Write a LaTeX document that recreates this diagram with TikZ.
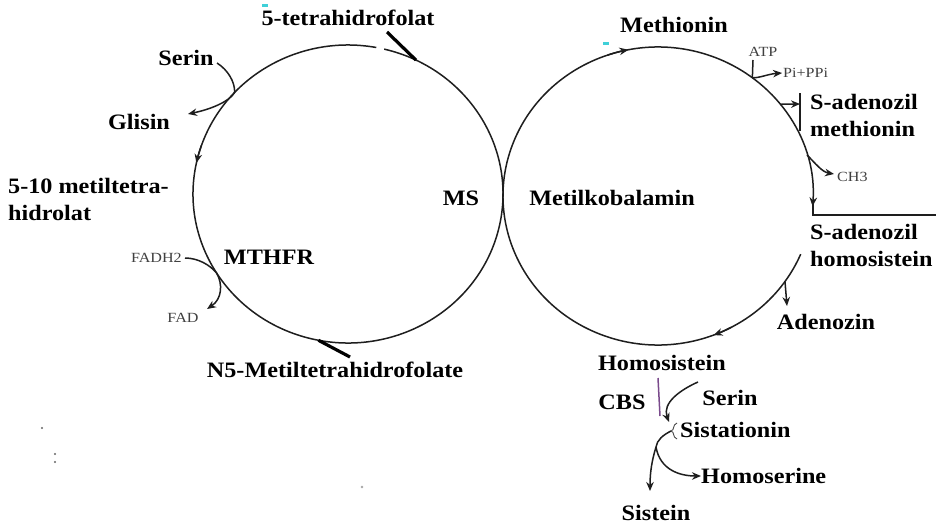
\documentclass[tikz,border=0pt]{standalone}
\usepackage{fontspec}
\usetikzlibrary{arrows.meta,calc}
\newfontfamily\lsfam{Liberation Serif}[FakeStretch=1.1]
\newfontfamily\lssfam{Liberation Serif}[FakeStretch=1.15]
\newcommand\bigf{\lsfam\bfseries\fontsize{22}{27}\selectfont}
\newcommand\smallf{\lssfam\fontsize{14}{16}\selectfont}
\definecolor{lncol}{HTML}{1E1E1E}
\definecolor{purp}{HTML}{7A4A8C}
\definecolor{cyanmark}{HTML}{3FD0D8}
\tikzset{
  lbl/.style={font=\bigf, inner sep=0pt, text=black},
  sml/.style={font=\smallf, inner sep=0pt, text=black!75},
  ln/.style={line width=1.5pt, draw=lncol},
  tipped/.style={-{Stealth[length=9pt,width=7.5pt]}},
  thickbar/.style={line width=3.2pt, draw=black},
  speck/.style={fill=black!60, draw=none}
}
\begin{document}
\begin{tikzpicture}[x=1pt,y=-1pt]
\useasboundingbox (0,0) rectangle (936,527);
\fill[white] (0,0) rectangle (936,527);
\clip (0,0) rectangle (936,527);

% ---------- left cycle (folate) ----------
\draw[ln] ([shift={(348,194)}]-76.5:155 and 149) arc[start angle=-76.5, end angle=280.5, x radius=155, y radius=149];
\draw[ln,tipped] ([shift={(348,194)}]199:155 and 149) arc[start angle=199, end angle=192, x radius=155, y radius=149];
\coordinate (lSer) at ([shift={(348,194)}]223:155 and 149);
\coordinate (lFad) at ([shift={(348,194)}]148:155 and 149);
\coordinate (lN5) at ([shift={(348,194)}]101:155 and 149);
\coordinate (lThf) at ([shift={(348,194)}]-64:155 and 149);

% ---------- right cycle (methionine) ----------
\coordinate (rStart) at ([shift={(658,196)}]23:155 and 149);
\draw[ln,tipped] (rStart) arc[start angle=23, end angle=364, x radius=155, y radius=149];
\draw[ln,tipped] ([shift={(658,196)}]251:155 and 149) arc[start angle=251, end angle=259, x radius=155, y radius=149];
\draw[ln,tipped] ([shift={(658,196)}]62:155 and 149) arc[start angle=62, end angle=69, x radius=155, y radius=149];
\coordinate (rAtp) at ([shift={(658,196)}]307.5:155 and 149);
\coordinate (rSam) at ([shift={(658,196)}]322:155 and 149);
\coordinate (rCh3) at ([shift={(658,196)}]344:155 and 149);
\coordinate (rAdo) at ([shift={(658,196)}]35:155 and 149);

% ---------- labels ----------
\node[lbl] (thf) at (348,18) {5-tetrahidrofolat};
\node[lbl] (serinL) at (186,58) {Serin};
\node[lbl] (glisin) at (139,122) {Glisin};
\node[lbl, anchor=west, align=left] (mthf) at (8,199) {5-10 metiltetra-\\hidrolat};
\node[sml, anchor=east] (fadh) at (182,258) {FADH2};
\node[sml] (fad) at (183,318) {FAD};
\node[lbl] (mthfr) at (269,257) {MTHFR};
\node[lbl] (ms) at (461,198) {MS};
\node[lbl] (mkb) at (612,198) {Metilkobalamin};
\node[lbl] (n5) at (335,370) {N5-Metiltetrahidrofolate};
\node[lbl] (met) at (674,25) {Methionin};
\node[sml] (atp) at (763,52) {ATP};
\node[sml, anchor=west] (pi) at (783,73) {Pi+PPi};
\node[lbl, anchor=west, align=left] (sam) at (810,115) {S-adenozil\\methionin};
\node[sml, anchor=west] (ch3) at (837,177) {CH3};
\node[lbl, anchor=west, align=left] (sah) at (810,245) {S-adenozil\\homosistein};
\node[lbl] (ado) at (826,322) {Adenozin};
\node[lbl] (hcy) at (662,363) {Homosistein};
\node[lbl] (cbs) at (622,402) {CBS};
\node[lbl] (serinB) at (730,398) {Serin};
\node[lbl, anchor=west] (cysta) at (680,430) {Sistationin};
\node[lbl, anchor=west] (hser) at (701,476) {Homoserine};
\node[lbl] (cys) at (656,513) {Sistein};

% ---------- left branches ----------
\coordinate (thfA) at (387,32);
\draw[thickbar] (thfA) -- (lThf);
\coordinate (n5A) at (350,357);
\draw[thickbar] (lN5) -- (n5A);
\coordinate (serStart) at (217,63);
\coordinate (gliEnd) at (188,114);
\draw[ln,tipped] (serStart) .. controls (228,70) and (235,82) .. (lSer) .. controls (230,101) and (212,109) .. (gliEnd);
\coordinate (fadhS) at (185,258);
\coordinate (fadE) at (207,309);
\draw[ln,tipped] (fadhS) .. controls (198,258) and (210,265) .. (lFad) .. controls (223,284) and (222,299) .. (fadE);

% ---------- right branches ----------
\coordinate (atpTop) at (753,60);
\draw[ln] (atpTop) -- (rAtp);
\coordinate (piEnd) at (782,73);
\draw[ln,tipped] (rAtp) .. controls (760,78) and (768,74) .. (piEnd);
\coordinate (samBar) at (800,104);
\draw[ln,tipped] (rSam) -- (samBar);
\coordinate (samBarT) at (800,93);
\coordinate (samBarB) at (800,131);
\draw[ln] (samBarT) -- (samBarB);
\coordinate (ch3End) at (834,174);
\draw[ln,tipped] (rCh3) .. controls (815,163) and (822,172) .. (ch3End);
\coordinate (lT) at (813,200);
\coordinate (lC) at (813,215);
\coordinate (lR) at (940,215);
\draw[ln] (lT) -- (lC) -- (lR);
\coordinate (adoEnd) at (787,306);
\draw[ln,tipped] (rAdo) -- (adoEnd);

% ---------- transsulfuration ----------
\coordinate (cbsT) at (658,378);
\coordinate (cbsB) at (660,416);
\draw[line width=1.5pt, draw=purp] (cbsT) -- (cbsB);
\coordinate (serB) at (698,382);
\coordinate (serE) at (669,422);
\draw[ln,tipped] (serB) .. controls (680,390) and (662,403) .. (serE);
\coordinate (brT) at (677,423);
\coordinate (brM) at (671,431);
\coordinate (brB) at (677,439);
\draw[line width=0.9pt, draw=black!70] (brT) .. controls (672,425) and (675,430) .. (brM) .. controls (675,432) and (672,437) .. (brB);
\coordinate (fork) at (656,447);
\draw[ln] (brM) .. controls (663,435) and (657,440) .. (fork);
\coordinate (cysE) at (650,491);
\draw[ln,tipped] (fork) .. controls (652,460) and (650,472) .. (cysE);
\coordinate (hserE) at (701,476);
\draw[ln,tipped] (fork) .. controls (660,470) and (680,476) .. (hserE);

% ---------- specks ----------
\fill[speck] (42,428) circle (1.2);
\fill[speck] (55,454) circle (1.2);
\fill[speck] (55,462) circle (1.2);
\fill[black!35] (362,487) circle (1.3);
\fill[cyanmark] (603,42) rectangle (609,45);
\fill[cyanmark] (262,4) rectangle (268,7);
\end{tikzpicture}
\end{document}
